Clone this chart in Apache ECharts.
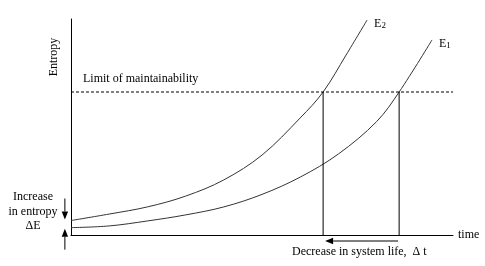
<!DOCTYPE html>
<html><head><meta charset="utf-8">
<script src="https://cdn.jsdelivr.net/npm/echarts@6/dist/echarts.min.js"></script>
<style>html,body{margin:0;padding:0;background:#fff}#c{width:485px;height:266px}</style>
</head><body><div id="c"></div>
<script>
// data (time 0-100, entropy 0-100)
const e2Time = [0, 10, 20, 30, 40, 50, 60, 66, 72, 77.5];
const e2Entropy = [6.7, 9.7, 13.0, 18.0, 25.5, 37.0, 54.2, 66.2, 83.3, 99.5];
const e1Time = [0, 10, 20, 30, 40, 50, 60, 70, 80, 85.9, 94.5];
const e1Entropy = [3.4, 4.2, 6.5, 9.3, 13.0, 18.8, 26.8, 37.5, 52.5, 66.2, 90.3];
const limitValue = 66.2;
const e2Cross = 66.0;
const e1Cross = 85.9;
const seriesNames = ['E2', 'E1'];

const FONT = 'Liberation Serif';
const zip = (a, b) => a.map((v, i) => [v, b[i]]);
const chart = echarts.init(document.getElementById('c'));
const lbl = (name, sub) => ({
  show: true, distance: 7, offset: [0, 4], color: '#000', fontFamily: FONT,
  formatter: '{a|' + name + '}{b|' + sub + '}',
  rich: {a: {fontSize: 12, fontFamily: FONT, color: '#000'}, b: {fontSize: 9, fontFamily: FONT, color: '#000', padding: [3, 0, 0, 0]}}
});
const txt = (t, extra) => Object.assign({text: t, fontFamily: FONT, fontSize: 12, fill: '#000'}, extra || {});
chart.setOption({
  animation: false,
  grid: {left: 71, top: 19, right: 32, bottom: 31},
  xAxis: {type: 'value', min: 0, max: 100, name: 'time', nameLocation: 'end', nameGap: 5,
    nameTextStyle: {fontFamily: FONT, fontSize: 12, color: '#000'},
    axisLine: {lineStyle: {color: '#000', width: 1}}, axisTick: {show: false}, axisLabel: {show: false}, splitLine: {show: false}},
  yAxis: {type: 'value', min: 0, max: 100,
    axisLine: {show: true, lineStyle: {color: '#000', width: 1}}, axisTick: {show: false}, axisLabel: {show: false}, splitLine: {show: false}},
  series: [
    {name: seriesNames[0], type: 'line', smooth: 0.35, symbol: 'none', data: zip(e2Time, e2Entropy),
      lineStyle: {color: '#333', width: 1}, endLabel: lbl('E', '2'), z: 3},
    {name: seriesNames[1], type: 'line', smooth: 0.35, symbol: 'none', data: zip(e1Time, e1Entropy),
      lineStyle: {color: '#333', width: 1}, endLabel: lbl('E', '1'), z: 3},
    {type: 'line', symbol: 'none', data: [[e2Cross, 0], [e2Cross, limitValue]], lineStyle: {color: '#000', width: 1}},
    {type: 'line', symbol: 'none', data: [[e1Cross, 0], [e1Cross, limitValue]], lineStyle: {color: '#000', width: 1}},
    {type: 'line', symbol: 'none', data: [[0, limitValue], [100, limitValue]],
      lineStyle: {color: '#000', width: 1, type: [3, 2]}}
  ]
});
const P = (x, y) => chart.convertToPixel({gridIndex: 0}, [x, y]);
function arrow(from, to) {
  const dx = to[0] - from[0], dy = to[1] - from[1];
  const L = Math.hypot(dx, dy), ux = dx / L, uy = dy / L;
  const hl = 8, hw = 3.2;
  const bx = to[0] - ux * hl, by = to[1] - uy * hl;
  return [
    {type: 'line', shape: {x1: from[0], y1: from[1], x2: bx, y2: by}, style: {stroke: '#000', lineWidth: 1}},
    {type: 'polygon', shape: {points: [to, [bx - uy * hw, by + ux * hw], [bx + uy * hw, by - ux * hw]]}, style: {fill: '#000'}}
  ];
}
const limP = P(0, limitValue);
const xL = P(-1.6, 0)[0];
const e2Start = P(0, e2Entropy[0]), e1Start = P(0, e1Entropy[0]);
const baseY = P(0, 0)[1];
const g = [].concat(
  arrow([P(e1Cross, 0)[0] - 1, baseY + 6], [P(e2Cross, 0)[0] + 2, baseY + 6]),
  arrow([xL, e2Start[1] - 22], [xL, e2Start[1] - 1]),
  arrow([xL, e1Start[1] + 22], [xL, e1Start[1] + 1]),
  [
    {type: 'text', x: 54, y: 57, rotation: Math.PI / 2, style: txt('Entropy', {fontSize: 12, align: 'center', verticalAlign: 'middle'})},
    {type: 'text', x: 33, y: 190, style: txt('Increase\nin entropy\nΔE', {align: 'center', lineHeight: 14.5})},
    {type: 'text', x: 292, y: 246, style: txt('Decrease in system life,  Δ t')},
    {type: 'text', x: limP[0] + 12, y: limP[1] - 19, style: txt('Limit of maintainability')}
  ]
);
chart.setOption({graphic: g});
</script></body></html>
